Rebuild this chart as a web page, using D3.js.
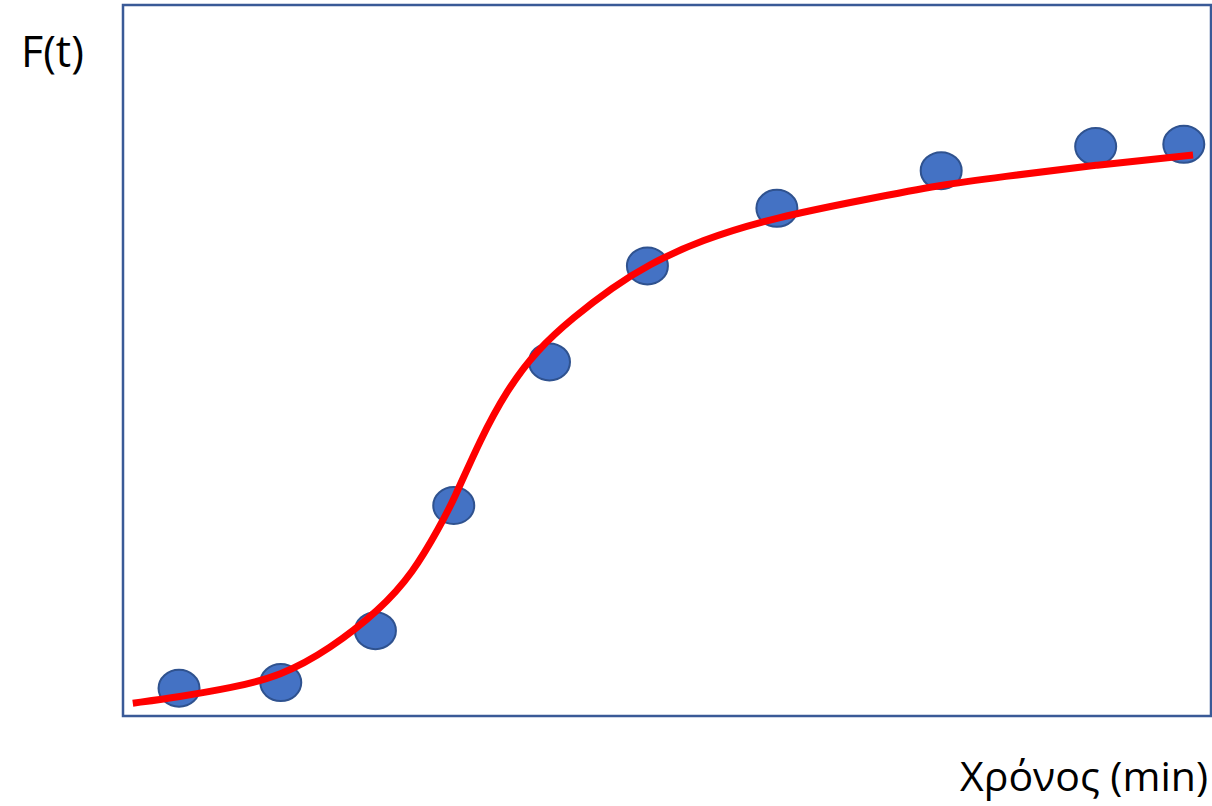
<!DOCTYPE html>
<html>
<head>
<meta charset="utf-8">
<script src="https://cdn.jsdelivr.net/npm/d3@7"></script>
<style>
  html, body { margin: 0; padding: 0; background: #ffffff; }
  svg { display: block; }
</style>
</head>
<body>
<svg id="chart" width="1212" height="806"></svg>
<script>
// Measured samples: time (arbitrary units) and cumulative fraction F(t)
const sampleTime = [5.15, 14.5, 23.2, 30.4, 39.2, 48.2, 60.1, 75.2, 89.4, 97.5];
const sampleF    = [0.039, 0.047, 0.120, 0.296, 0.498, 0.633, 0.714, 0.767, 0.801, 0.804];

// Fitted sigmoid model curve
const fitTime = [0.9, 5.15, 9.8, 14.5, 19.0, 23.6, 26.65, 29.1, 30.4, 32.8, 35.3, 38.05, 41.4, 45.0, 48.2, 53.0, 60.1, 68.4, 75.1, 80.6, 89.4, 98.35];
const fitF    = [0.018, 0.027, 0.039, 0.056, 0.094, 0.149, 0.201, 0.266, 0.304, 0.388, 0.459, 0.515, 0.561, 0.603, 0.634, 0.669, 0.702, 0.727, 0.747, 0.758, 0.775, 0.789];

const yLabel = "F(t)";
const xLabel = "Χρόνος (min)";

const svg = d3.select("#chart");
const frame = { left: 123, top: 5, right: 1211, bottom: 716 };

const x = d3.scaleLinear().domain([0, 100]).range([frame.left, frame.right]);
const y = d3.scaleLinear().domain([0, 1]).range([frame.bottom, frame.top]);

// Plot frame
svg.append("rect")
  .attr("x", frame.left)
  .attr("y", frame.top)
  .attr("width", frame.right - frame.left)
  .attr("height", frame.bottom - frame.top)
  .attr("fill", "none")
  .attr("stroke", "#3a5a97")
  .attr("stroke-width", 2.5);

// Data points
svg.append("g")
  .selectAll("ellipse")
  .data(sampleTime.map((t, i) => ({ t, f: sampleF[i] })))
  .join("ellipse")
  .attr("cx", d => x(d.t))
  .attr("cy", d => y(d.f))
  .attr("rx", 20.5)
  .attr("ry", 18.5)
  .attr("fill", "#4472c4")
  .attr("stroke", "#2f528f")
  .attr("stroke-width", 2);

// Fitted curve
const line = d3.line()
  .x((d, i) => x(fitTime[i]))
  .y(d => y(d))
  .curve(d3.curveBasis);

svg.append("path")
  .attr("d", line(fitF))
  .attr("fill", "none")
  .attr("stroke", "#ff0000")
  .attr("stroke-width", 7)
  .attr("stroke-linejoin", "round");

// Axis labels
svg.append("text")
  .attr("x", 21)
  .attr("y", 67)
  .attr("font-family", "'Open Sans', sans-serif")
  .attr("font-size", 43)
  .attr("fill", "#000")
  .text(yLabel);

svg.append("text")
  .attr("x", 1208)
  .attr("y", 791)
  .attr("text-anchor", "end")
  .attr("font-family", "'Open Sans', sans-serif")
  .attr("font-size", 41)
  .attr("fill", "#000")
  .text(xLabel);
</script>
</body>
</html>
